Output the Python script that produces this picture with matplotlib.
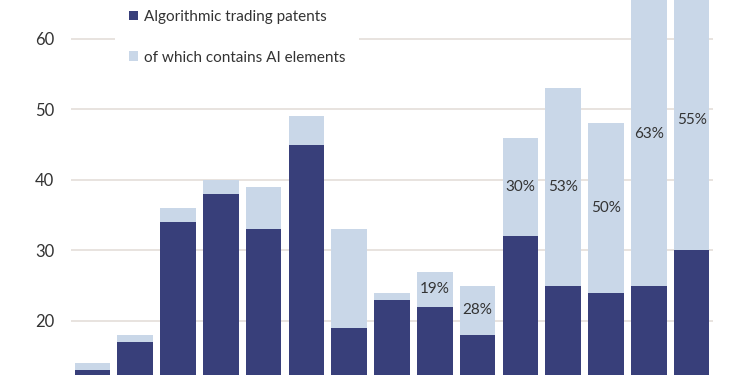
import matplotlib
matplotlib.use("Agg")
import matplotlib.pyplot as plt
import numpy as np
from matplotlib.patches import Patch

# totals per year (dark + light) and the algorithmic-only part
totals = [14, 18, 36, 40, 39, 49, 33, 24, 27, 25, 46, 53, 48, 68, 67]
algo = [13, 17, 34, 38, 33, 45, 19, 23, 22, 18, 32, 25, 24, 25, 30]
pct_labels = [None, None, None, None, None, None, None, None,
              "19%", "28%", "30%", "53%", "50%", "63%", "55%"]
yticks = [20, 30, 40, 50, 60]

NAVY, LIGHT, GRID, INK = "#383f7a", "#c9d7e8", "#e6e1dc", "#333333"
plt.rcParams["font.family"] = ["Lato", "DejaVu Sans"]

fig = plt.figure(figsize=(7.5, 3.75), dpi=100)
ax = fig.add_axes([71 / 750, 0, 642 / 750, 1])

x = np.arange(len(totals))
ai = np.array(totals) - np.array(algo)
ax.bar(x, algo, width=0.83, color=NAVY, zorder=2)
ax.bar(x, ai, bottom=algo, width=0.83, color=LIGHT, zorder=2)

for i, lab in enumerate(pct_labels):
    if lab:
        ax.text(i, algo[i] + ai[i] / 2, lab, ha="center", va="center",
                fontsize=11, color=INK, zorder=3)

ax.set_xlim(-0.5, 14.5)
ax.set_ylim(12.34, 65.5)
ax.set_yticks(yticks)
ax.set_xticks([])
ax.yaxis.grid(True, color=GRID, lw=1.3, zorder=0)
ax.tick_params(axis="y", length=0, pad=12, labelsize=12, labelcolor=INK)
for s in ax.spines.values():
    s.set_visible(False)

handles = [Patch(facecolor=NAVY, label="Algorithmic trading patents"),
           Patch(facecolor=LIGHT, label="of which contains AI elements")]
leg = ax.legend(handles=handles, loc="upper left", bbox_to_anchor=(115 / 750, 1.01),
                bbox_transform=fig.transFigure, frameon=True, fontsize=11,
                handlelength=0.6, handleheight=0.6, handletextpad=0.4,
                labelspacing=1.75, borderpad=0.9, borderaxespad=0)
leg.get_frame().set_facecolor("white")
leg.get_frame().set_edgecolor("none")
leg.get_frame().set_alpha(1)
for t in leg.get_texts():
    t.set_color(INK)

fig.savefig("out.png", dpi=100)
